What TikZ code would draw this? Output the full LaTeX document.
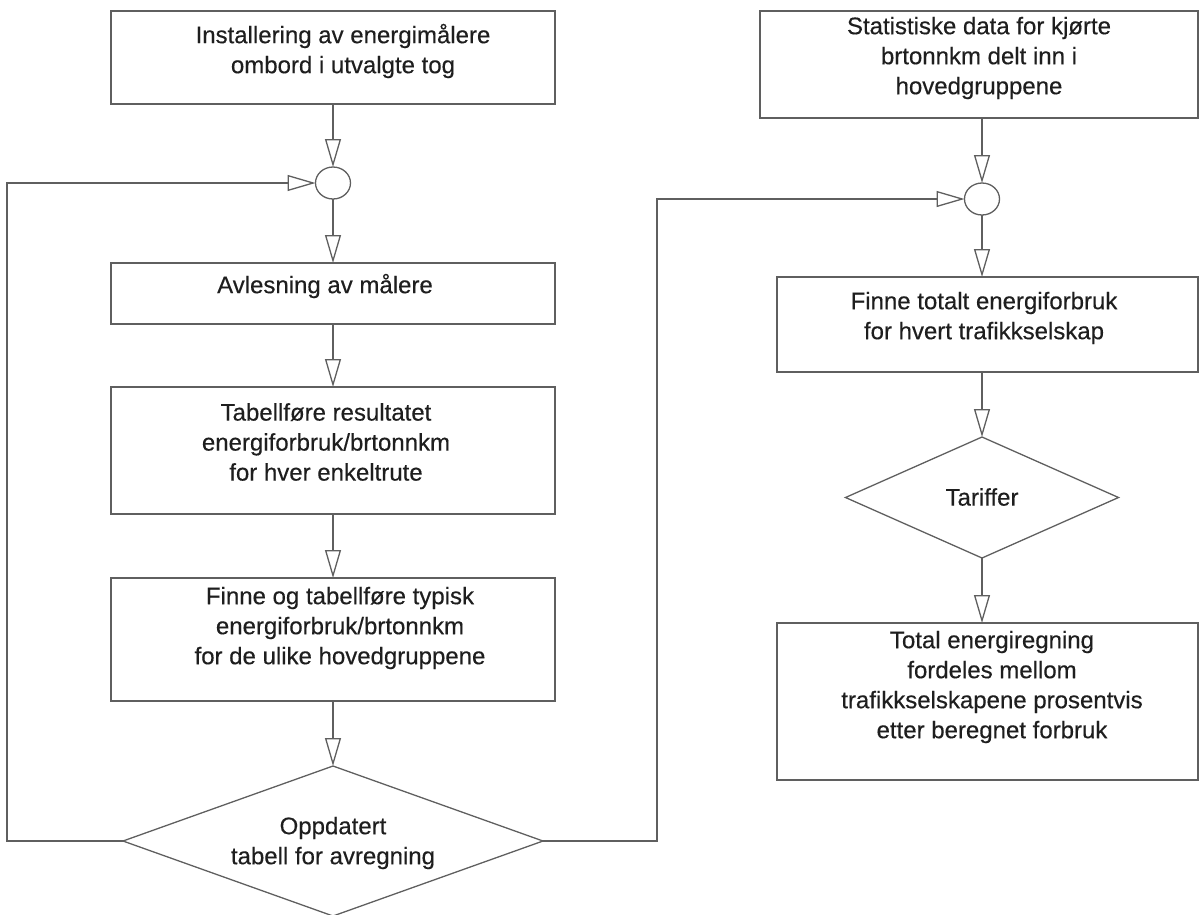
\documentclass[tikz,border=0pt]{standalone}
\usepackage{fontspec}
\setmainfont{Liberation Sans}[FakeBold=0.35]
\usetikzlibrary{arrows.meta,shapes.geometric}
\definecolor{linegray}{RGB}{95,95,95}
\definecolor{textgray}{RGB}{30,30,30}
\begin{document}
\begin{tikzpicture}[x=1pt,y=-1pt,
  box/.style={draw=linegray, line width=1.3pt, rectangle, inner sep=0pt, outer sep=0pt},
  junction/.style={draw=linegray, line width=1.3pt, ellipse, minimum width=35pt, minimum height=32pt, inner sep=0pt, outer sep=0pt},
  decision/.style={draw=linegray, line width=1.3pt, diamond, inner sep=0pt, outer sep=0pt},
  txt/.style={text=textgray, align=center, inner sep=0pt, font=\fontsize{24pt}{30pt}\selectfont},
  flow/.style={draw=linegray, line width=1.3pt, line join=miter,
    -{Triangle[length=28pt,width=16pt,fill=white]}}
]
\useasboundingbox (0,0) rectangle (1202,914);

% left column: measuring and tabulating
\node[box, minimum width=444pt, minimum height=93pt]  (b1) at (333,57.5)  {};
\node[junction]                                        (c1) at (333,183)   {};
\node[box, minimum width=444pt, minimum height=61pt]  (b2) at (333,293.5) {};
\node[box, minimum width=444pt, minimum height=127pt] (b3) at (333,450.5) {};
\node[box, minimum width=444pt, minimum height=123pt] (b4) at (333,639.5) {};
\node[decision, minimum width=420pt, minimum height=150pt] (d1) at (333,841) {};

\node[txt] (t1) at (343,51)  {Installering av energimålere\\ombord i utvalgte tog};
\node[txt] (t2) at (325,286) {Avlesning av målere};
\node[txt] (t3) at (326,442) {Tabellføre resultatet\\energiforbruk/brtonnkm\\for hver enkeltrute};
\node[txt] (t4) at (340,628) {Finne og tabellføre typisk\\energiforbruk/brtonnkm\\for de ulike hovedgruppene};
\node[txt] (t5) at (333,843) {Oppdatert\\tabell for avregning};

% right column: settlement
\node[box, minimum width=438pt, minimum height=107pt] (r1) at (979,64.5)   {};
\node[junction]                                        (c2) at (982,199)    {};
\node[box, minimum width=421pt, minimum height=95pt]  (r2) at (987.5,324.5) {};
\node[decision, minimum width=273pt, minimum height=121pt] (d2) at (982,497.5) {};
\node[box, minimum width=421pt, minimum height=157pt] (r3) at (987.5,701.5) {};

\node[txt] (s1) at (979,58)  {Statistiske data for kjørte\\brtonnkm delt inn i\\hovedgruppene};
\node[txt] (s2) at (984,318) {Finne totalt energiforbruk\\for hvert trafikkselskap};
\node[txt] (s3) at (982,497) {Tariffer};
\node[txt] (s4) at (992,687) {Total energiregning\\fordeles mellom\\trafikkselskapene prosentvis\\etter beregnet forbruk};

% routing columns for the loop-back lines
\coordinate (fbl) at (7,0);
\coordinate (fbr) at (657,0);

% connectors
\draw[flow] (b1) -- (c1);
\draw[flow] (c1) -- (b2);
\draw[flow] (b2) -- (b3);
\draw[flow] (b3) -- (b4);
\draw[flow] (b4) -- (d1);
\draw[flow] (d1.west) -- (d1.west -| fbl) |- (c1.west);
\draw[flow] (d1.east) -- (d1.east -| fbr) |- (c2.west);

\draw[flow] (r1.south -| c2) -- (c2.north);
\draw[flow] (c2.south) -- (c2.south |- r2.north);
\draw[flow] (r2.south -| c2) -- (d2.north);
\draw[flow] (d2.south) -- (d2.south |- r3.north);
\end{tikzpicture}
\end{document}
